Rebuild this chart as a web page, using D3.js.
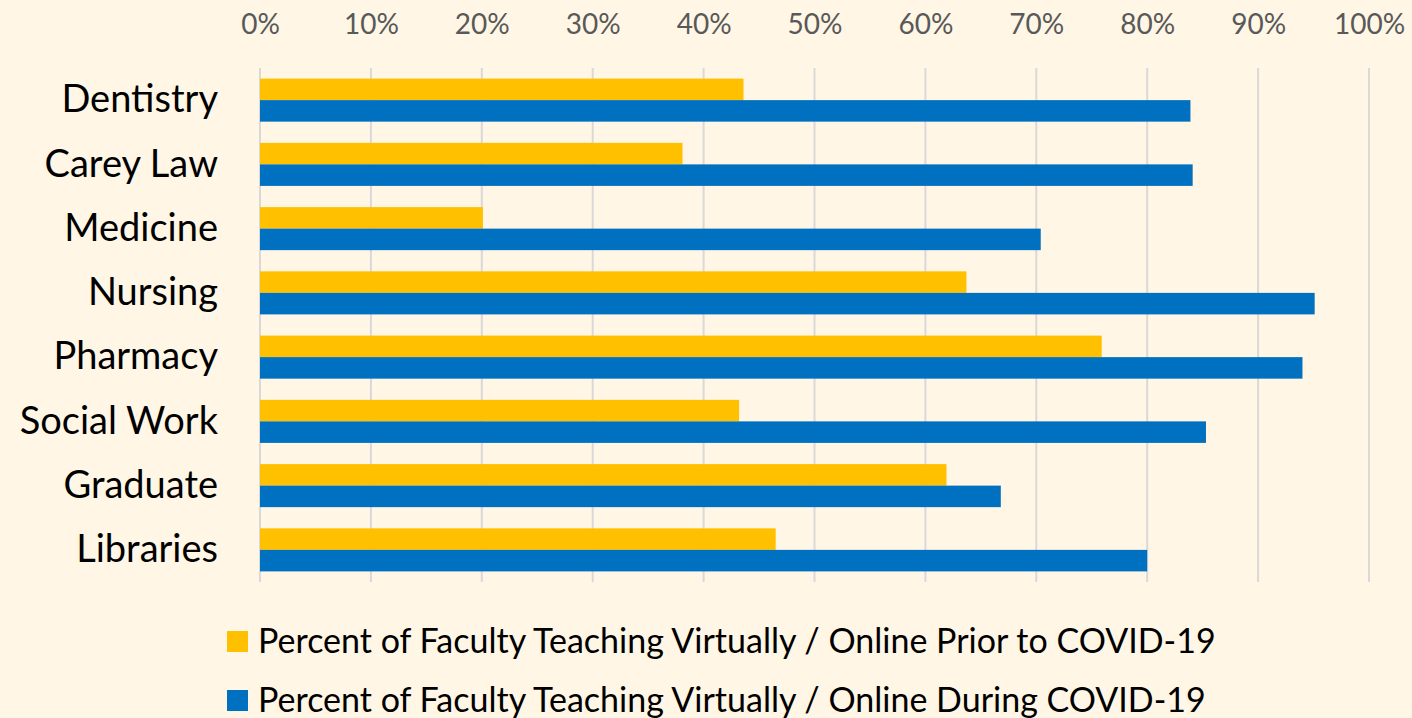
<!DOCTYPE html>
<html>
<head>
  <style>
    body { margin: 0; background: #FFF6E5; }
    svg { display: block; }
    svg text { font-family: Lato, "Open Sans", sans-serif; }
    .tick text { fill: #595959; }
  </style>
</head>
<body>
  <svg id="chart" width="1412" height="718"></svg>
  <script src="https://d3js.org/d3.v7.min.js"></script>
  <script>
    // values (fractions)
    const schools = ['Dentistry', 'Carey Law', 'Medicine', 'Nursing', 'Pharmacy', 'Social Work', 'Graduate', 'Libraries'];
    const priorCovid = [0.436, 0.381, 0.201, 0.637, 0.759, 0.432, 0.619, 0.465];
    const duringCovid = [0.839, 0.841, 0.704, 0.951, 0.940, 0.853, 0.668, 0.800];
    const seriesNames = [
      'Percent of Faculty Teaching Virtually / Online Prior to COVID-19',
      'Percent of Faculty Teaching Virtually / Online During COVID-19'
    ];
    const colors = ['#FFC000', '#0070C0'];
    const xTicks = [0, 0.1, 0.2, 0.3, 0.4, 0.5, 0.6, 0.7, 0.8, 0.9, 1];

    const svg = d3.select('#chart');
    const plotLeft = 260, plotRight = 1369, plotTop = 68, plotBottom = 582;

    const x = d3.scaleLinear().domain([0, 1]).range([plotLeft, plotRight]);
    const y = d3.scaleBand().domain(schools).range([plotTop, plotBottom]).paddingInner(0.33).paddingOuter(0.165);
    const ySub = d3.scaleBand().domain([0, 1]).range([0, y.bandwidth()]);

    // gridlines
    svg.append('g')
      .selectAll('line')
      .data(xTicks)
      .enter().append('line')
      .attr('x1', d => x(d)).attr('x2', d => x(d))
      .attr('y1', plotTop).attr('y2', plotBottom)
      .attr('stroke', '#D9D9D9')
      .attr('stroke-width', 2);

    // top axis labels
    const xAxis = d3.axisTop(x).tickValues(xTicks).tickFormat(d3.format('.0%')).tickSize(0).tickPadding(0);
    svg.append('g')
      .attr('transform', 'translate(0,33)')
      .call(xAxis)
      .call(g => g.select('.domain').remove())
      .selectAll('text')
      .attr('font-size', 28)
      .attr('dy', '0.35em')
      .attr('y', -9);

    // bars
    const rows = schools.map((s, i) => ({ school: s, vals: [priorCovid[i], duringCovid[i]] }));
    const groups = svg.append('g')
      .selectAll('g')
      .data(rows)
      .enter().append('g')
      .attr('transform', d => `translate(0,${y(d.school)})`);

    groups.selectAll('rect')
      .data(d => d.vals.map((v, k) => ({ v, k })))
      .enter().append('rect')
      .attr('x', x(0))
      .attr('y', d => ySub(d.k))
      .attr('width', d => x(d.v) - x(0))
      .attr('height', ySub.bandwidth())
      .attr('fill', d => colors[d.k]);

    // category labels
    const yAxis = d3.axisLeft(y).tickSize(0).tickPadding(0);
    svg.append('g')
      .attr('transform', 'translate(218,0)')
      .call(yAxis)
      .call(g => g.select('.domain').remove())
      .selectAll('text')
      .attr('font-size', 38)
      .style('fill', '#000');

    // legend
    const legend = svg.append('g')
      .selectAll('g')
      .data(seriesNames)
      .enter().append('g')
      .attr('transform', (d, i) => `translate(227,${631 + i * 59})`);

    legend.append('rect')
      .attr('width', 21).attr('height', 21)
      .attr('fill', (d, i) => colors[i]);

    legend.append('text')
      .attr('x', 31).attr('y', 10.5)
      .attr('dy', '0.33em')
      .attr('font-size', 34)
      .attr('fill', '#000')
      .text(d => d);
  </script>
</body>
</html>
